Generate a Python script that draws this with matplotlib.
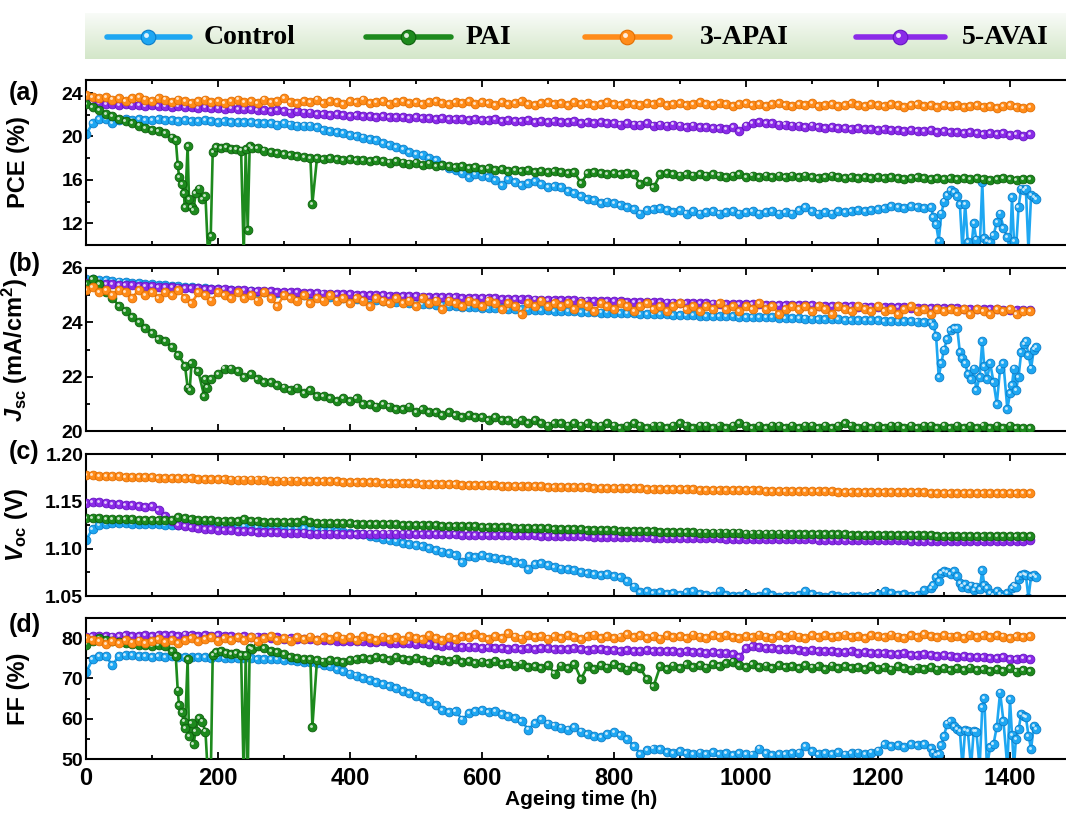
import numpy as np
import matplotlib.pyplot as plt
from matplotlib.ticker import MultipleLocator, FormatStrFormatter
from matplotlib.transforms import offset_copy

plt.rcParams['font.family'] = ['Liberation Sans', 'DejaVu Sans']
plt.rcParams['font.weight'] = 'bold'
plt.rcParams['mathtext.fontset'] = 'custom'
plt.rcParams['mathtext.rm'] = 'Liberation Sans:bold'
plt.rcParams['mathtext.it'] = 'Liberation Sans:italic:bold'
plt.rcParams['mathtext.bf'] = 'Liberation Sans:bold'

# ---------------- data ----------------
names = ['Control', 'PAI', '3-APAI', '5-AVAI']

# measurement grid, h
t10 = np.arange(0, 1440, 10)
t_ctrl_grid = np.arange(0, 1290, 10)
ctrl_tail_t = [1284, 1288, 1292, 1296, 1300, 1305, 1310, 1315, 1320, 1324,
               1328, 1332, 1336, 1341, 1345, 1349, 1354, 1358, 1361, 1365,
               1370, 1375, 1380, 1385, 1390, 1396, 1400, 1403, 1406, 1409,
               1413, 1417, 1421, 1424, 1428, 1432, 1436, 1440]
t_pai_head = np.arange(0, 140, 10)
pai_spike_t = [136, 139, 141, 145, 148, 150, 154, 156, 160, 163, 166, 171, 176, 181,
               185, 189, 192, 197, 205, 212, 220, 228, 235, 239, 242, 245, 248, 252]
t_pai_tail = np.arange(260, 1440, 10)

# (a) PCE (%)
ctrl_pce = [20.2, 21.2, 21.6, 21.6, 21.2, 21.5, 21.6, 21.5, 21.6, 21.5, 21.5, 21.6,
            21.5, 21.5, 21.4, 21.5, 21.4, 21.4, 21.5, 21.4, 21.3, 21.4, 21.3, 21.3,
            21.3, 21.3, 21.2, 21.2, 21.2, 21.1, 21.2, 21.1, 21.0, 21.0, 21.0, 20.9,
            20.6, 20.5, 20.4, 20.3, 20.1, 20.0, 19.9, 19.8, 19.7, 19.4, 19.2, 19.0,
            18.8, 18.6, 18.4, 18.3, 18.0, 17.8, 17.4, 17.1, 16.9, 16.6, 16.3, 16.5,
            16.4, 16.3, 16.0, 15.5, 16.1, 15.8, 15.5, 15.7, 15.9, 15.6, 15.3, 15.4,
            15.3, 15.0, 14.8, 14.5, 14.2, 14.1, 13.9, 14.0, 13.9, 13.7, 13.5, 13.3,
            12.9, 13.2, 13.3, 13.4, 13.2, 13.0, 13.2, 12.9, 13.1, 12.9, 13.0, 13.1,
            12.9, 13.0, 13.1, 12.9, 13.0, 13.1, 12.9, 13.0, 13.1, 12.9, 13.0, 12.9,
            13.2, 13.5, 13.1, 12.9, 13.0, 12.9, 13.1, 13.0, 13.1, 13.2, 13.1, 13.2,
            13.3, 13.4, 13.6, 13.5, 13.4, 13.6, 13.5, 13.4, 13.5]
ctrl_pce_tail = [12.6, 11.9, 10.4, 12.9, 14.0, 14.6, 15.1, 14.9, 14.5, 13.8,
                 9.5, 13.8, 10.3, 9.5, 12.0, 10.5, 9.5, 15.8, 10.6, 10.4,
                 10.3, 10.9, 12.1, 12.9, 11.6, 10.7, 9.5, 14.4, 10.4, 9.5,
                 13.5, 15.2, 15.1, 15.2, 9.5, 14.6, 14.4, 14.2]
pai_pce_head = [23.0, 22.7, 22.4, 22.1, 21.9, 21.6, 21.4, 21.2, 21.0, 20.8, 20.6, 20.5, 20.3, 19.9]
pai_pce_spike = [19.7, 17.4, 16.3, 15.6, 14.8, 13.5, 19.1, 14.2, 13.5, 13.2, 14.8, 15.2, 14.2, 14.5,
                 9.0, 10.8, 18.6, 19.0, 18.9, 19.0, 18.8, 18.8, 18.7, 9.0, 18.8, 11.4, 19.1, 18.9]
pai_pce_tail = [18.9, 18.7, 18.6, 18.5, 18.4, 18.3, 18.2, 18.1, 18.0, 18.0,
                17.9, 18.0, 17.9, 17.8, 17.9, 17.8, 17.8, 17.7, 17.8, 17.7, 17.6, 17.7,
                17.6, 17.5, 17.6, 17.4, 17.5, 17.3, 17.4, 17.3, 17.2, 17.3, 17.1, 17.2,
                17.0, 17.1, 16.9, 17.0, 16.8, 16.9, 16.8, 16.9, 16.7, 16.8, 16.7, 16.8,
                16.7, 16.6, 16.7, 15.7, 16.6, 16.7, 16.6, 16.5, 16.6, 16.5, 16.6, 16.5,
                15.6, 15.9, 15.3, 16.5, 16.6, 16.5, 16.4, 16.5, 16.4, 16.5, 16.4, 16.5,
                16.4, 16.3, 16.4, 16.5, 16.3, 16.4, 16.3, 16.4, 16.3, 16.4, 16.3, 16.4,
                16.3, 16.4, 16.3, 16.2, 16.3, 16.4, 16.3, 16.2, 16.3, 16.2, 16.3, 16.2,
                16.3, 16.2, 16.3, 16.2, 16.1, 16.2, 16.3, 16.2, 16.1, 16.2, 16.1, 16.2,
                16.1, 16.2, 16.1, 16.2, 16.1, 16.0, 16.1, 16.2, 16.1, 16.0, 16.1, 16.1]
pai_pce_dip = ([343], [13.8])
apai_pce = [23.8, 23.6, 23.5, 23.6, 23.4, 23.5, 23.3, 23.5, 23.6, 23.4, 23.3, 23.5,
            23.4, 23.2, 23.4, 23.3, 23.1, 23.3, 23.4, 23.2, 23.3, 23.1, 23.3, 23.4,
            23.2, 23.3, 23.1, 23.4, 23.2, 23.3, 23.5, 23.2, 23.1, 23.3, 23.2, 23.4,
            23.1, 23.3, 23.2, 23.0, 23.3, 23.2, 23.4, 23.1, 23.2, 23.3, 23.0, 23.2,
            23.3, 23.1, 23.2, 23.0, 23.2, 23.3, 23.1, 23.0, 23.2, 23.1, 23.3, 23.0,
            23.2, 23.1, 22.9, 23.2, 23.0, 23.1, 23.3, 23.0, 22.9, 23.1, 23.2, 23.0,
            23.1, 22.9, 23.2, 23.0, 23.1, 22.9, 23.0, 23.2, 23.0, 22.9, 23.1, 23.0,
            22.9, 23.1, 23.0, 23.2, 22.9, 23.0, 23.1, 22.9, 23.0, 23.2, 23.0, 22.9,
            23.1, 23.0, 22.8, 23.0, 23.1, 22.9, 23.0, 22.8, 23.0, 23.1, 22.9, 22.8,
            23.0, 22.9, 23.1, 22.8, 22.9, 23.0, 22.8, 22.9, 23.1, 22.9, 22.8, 23.0,
            22.9, 22.8, 23.0, 22.9, 22.7, 22.9, 23.0, 22.8, 22.9, 22.7, 22.9, 22.8,
            22.9, 22.7, 22.8, 22.9, 22.7, 22.8, 22.6, 22.8, 22.9, 22.7, 22.6, 22.7]
avai_pce = [23.3, 23.2, 23.1, 23.0, 23.0, 22.9, 23.0, 22.9, 22.9, 22.8, 22.9, 22.8,
            22.8, 22.7, 22.8, 22.7, 22.7, 22.6, 22.7, 22.6, 22.6, 22.5, 22.6, 22.5,
            22.5, 22.5, 22.4, 22.4, 22.3, 22.4, 22.3, 22.2, 22.3, 22.2, 22.2, 22.1,
            22.1, 22.0, 22.1, 22.0, 21.9, 22.0, 21.9, 21.9, 21.8, 21.9, 21.8, 21.8,
            21.8, 21.7, 21.8, 21.7, 21.7, 21.6, 21.7, 21.6, 21.6, 21.6, 21.5, 21.6,
            21.5, 21.5, 21.6, 21.4, 21.5, 21.4, 21.4, 21.5, 21.3, 21.4, 21.3, 21.4,
            21.3, 21.3, 21.4, 21.2, 21.3, 21.2, 21.3, 21.2, 21.2, 21.1, 21.2, 21.1,
            21.1, 21.2, 21.0, 21.1, 21.0, 21.1, 21.0, 20.9, 21.0, 20.9, 20.9, 20.8,
            20.8, 20.7, 20.9, 20.5, 21.0, 21.2, 21.3, 21.2, 21.2, 21.1, 21.1, 21.0,
            21.0, 20.9, 21.0, 20.9, 20.8, 20.9, 20.8, 20.8, 20.7, 20.8, 20.7, 20.7,
            20.6, 20.7, 20.6, 20.6, 20.5, 20.6, 20.5, 20.5, 20.6, 20.4, 20.5, 20.4,
            20.4, 20.3, 20.4, 20.3, 20.2, 20.3, 20.2, 20.3, 20.1, 20.2, 20.0, 20.2]

# (b) Jsc (mA/cm2)
ctrl_jsc = [25.60, 25.58, 25.56, 25.54, 25.52, 25.50, 25.48, 25.46, 25.44, 25.42, 25.40, 25.38,
            25.36, 25.34, 25.32, 25.30, 25.29, 25.27, 25.25, 25.23, 25.22, 25.20, 25.18, 25.17,
            25.15, 25.14, 25.12, 25.11, 25.09, 25.08, 25.06, 25.05, 25.03, 25.02, 25.00, 24.98,
            24.96, 24.94, 24.92, 24.90, 24.89, 24.87, 24.85, 24.83, 24.81, 24.79, 24.78, 24.76,
            24.74, 24.72, 24.70, 24.68, 24.67, 24.65, 24.63, 24.61, 24.60, 24.58, 24.56, 24.55,
            24.54, 24.53, 24.52, 24.51, 24.50, 24.49, 24.48, 24.47, 24.46, 24.45, 24.44, 24.43,
            24.42, 24.41, 24.40, 24.39, 24.38, 24.37, 24.36, 24.36, 24.35, 24.34, 24.33, 24.33,
            24.32, 24.31, 24.30, 24.30, 24.29, 24.28, 24.27, 24.27, 24.26, 24.25, 24.24, 24.24,
            24.23, 24.22, 24.22, 24.21, 24.20, 24.20, 24.19, 24.18, 24.18, 24.17, 24.16, 24.16,
            24.15, 24.14, 24.14, 24.13, 24.12, 24.12, 24.11, 24.10, 24.10, 24.09, 24.08, 24.08,
            24.07, 24.06, 24.06, 24.05, 24.04, 24.04, 24.03, 24.02, 24.02]
ctrl_jsc_tail = [23.9, 23.5, 22.0, 22.5, 23.0, 23.4, 23.7, 23.8, 23.8, 22.9,
                 22.7, 22.5, 22.1, 21.9, 22.3, 21.5, 22.0, 23.3, 22.4, 21.9,
                 22.5, 21.8, 21.0, 22.3, 22.5, 20.8, 21.4, 21.7, 22.3, 21.5,
                 22.0, 22.9, 23.2, 23.3, 22.8, 22.3, 23.0, 23.1]
pai_jsc = [25.4, 25.6, 25.4, 25.1, 24.9, 24.6, 24.4, 24.2, 24.0, 23.8, 23.6, 23.4,
           23.3, 23.1, 22.8, 22.4, 22.5, 22.2, 21.9, 21.9, 22.1, 22.3, 22.3, 22.2,
           22.0, 22.1, 21.9, 21.8, 21.8, 21.7, 21.6, 21.5, 21.6, 21.4, 21.5, 21.3,
           21.3, 21.2, 21.1, 21.2, 21.1, 21.2, 21.0, 21.0, 20.9, 21.0, 20.9, 20.8,
           20.8, 20.9, 20.7, 20.8, 20.7, 20.7, 20.6, 20.7, 20.6, 20.5, 20.6, 20.5,
           20.5, 20.4, 20.5, 20.4, 20.4, 20.3, 20.4, 20.3, 20.4, 20.3, 20.2, 20.3,
           20.3, 20.2, 20.3, 20.2, 20.3, 20.2, 20.2, 20.3, 20.2, 20.1, 20.2, 20.3,
           20.2, 20.1, 20.2, 20.2, 20.1, 20.2, 20.3, 20.2, 20.1, 20.2, 20.2, 20.1,
           20.2, 20.1, 20.2, 20.3, 20.2, 20.1, 20.2, 20.1, 20.2, 20.2, 20.1, 20.2,
           20.1, 20.2, 20.2, 20.1, 20.2, 20.1, 20.2, 20.3, 20.2, 20.1, 20.2, 20.1,
           20.2, 20.1, 20.2, 20.2, 20.1, 20.2, 20.1, 20.2, 20.2, 20.1, 20.2, 20.1,
           20.2, 20.1, 20.2, 20.1, 20.2, 20.1, 20.2, 20.1, 20.2, 20.1, 20.1, 20.1]
pai_jsc_dip = ([154, 157, 179, 183], [21.6, 21.5, 21.3, 21.6])
apai_jsc = [25.2, 25.3, 25.1, 25.2, 25.0, 25.2, 25.1, 24.9, 25.2, 25.0, 25.1, 24.9,
            25.1, 25.0, 25.2, 24.9, 24.7, 25.1, 25.0, 24.8, 25.1, 25.0, 24.9, 25.1,
            24.9, 25.0, 24.8, 25.1, 24.9, 24.6, 25.0, 24.9, 24.8, 25.0, 24.7, 24.9,
            24.8, 25.0, 24.8, 24.9, 24.7, 24.9, 24.8, 24.6, 24.9, 24.8, 24.7, 24.9,
            24.7, 24.8, 24.6, 24.9, 24.7, 24.8, 24.5, 24.8, 24.7, 24.6, 24.8, 24.7,
            24.6, 24.8, 24.7, 24.5, 24.7, 24.6, 24.3, 24.7, 24.6, 24.8, 24.6, 24.7,
            24.6, 24.7, 24.5, 24.7, 24.6, 24.4, 24.7, 24.6, 24.5, 24.7, 24.6, 24.4,
            24.6, 24.7, 24.5, 24.6, 24.4, 24.6, 24.7, 24.5, 24.6, 24.4, 24.6, 24.5,
            24.7, 24.5, 24.6, 24.4, 24.6, 24.5, 24.7, 24.5, 24.6, 24.3, 24.5, 24.6,
            24.5, 24.6, 24.4, 24.6, 24.5, 24.3, 24.6, 24.5, 24.4, 24.6, 24.5, 24.4,
            24.6, 24.4, 24.5, 24.3, 24.5, 24.6, 24.4, 24.5, 24.3, 24.5, 24.4, 24.5,
            24.4, 24.5, 24.3, 24.5, 24.4, 24.3, 24.5, 24.4, 24.5, 24.3, 24.4, 24.4]
avai_jsc = [25.45, 25.44, 25.42, 25.41, 25.40, 25.38, 25.37, 25.36, 25.35, 25.33, 25.32, 25.31,
            25.30, 25.29, 25.28, 25.27, 25.26, 25.25, 25.24, 25.23, 25.22, 25.21, 25.20, 25.19,
            25.18, 25.17, 25.16, 25.15, 25.14, 25.13, 25.12, 25.11, 25.10, 25.09, 25.08, 25.07,
            25.06, 25.05, 25.04, 25.04, 25.03, 25.02, 25.01, 25.00, 25.00, 24.99, 24.98, 24.98,
            24.97, 24.96, 24.96, 24.95, 24.94, 24.94, 24.93, 24.92, 24.92, 24.91, 24.90, 24.90,
            24.89, 24.89, 24.88, 24.87, 24.87, 24.86, 24.86, 24.85, 24.84, 24.84, 24.83, 24.83,
            24.82, 24.82, 24.81, 24.80, 24.80, 24.79, 24.79, 24.78, 24.78, 24.77, 24.76, 24.76,
            24.75, 24.75, 24.74, 24.74, 24.73, 24.73, 24.72, 24.71, 24.71, 24.70, 24.70, 24.69,
            24.69, 24.68, 24.68, 24.67, 24.67, 24.66, 24.66, 24.65, 24.65, 24.64, 24.64, 24.63,
            24.63, 24.62, 24.62, 24.61, 24.61, 24.60, 24.60, 24.59, 24.59, 24.58, 24.58, 24.57,
            24.57, 24.56, 24.56, 24.55, 24.55, 24.54, 24.54, 24.53, 24.53, 24.52, 24.52, 24.51,
            24.51, 24.50, 24.50, 24.49, 24.49, 24.48, 24.48, 24.47, 24.47, 24.46, 24.46, 24.45]

# (c) Voc (V)
ctrl_voc = [1.109, 1.121, 1.125, 1.126, 1.127, 1.127, 1.127, 1.126, 1.126, 1.126, 1.126, 1.126,
            1.125, 1.125, 1.125, 1.125, 1.125, 1.125, 1.124, 1.124, 1.124, 1.124, 1.124, 1.124,
            1.124, 1.124, 1.123, 1.123, 1.123, 1.123, 1.123, 1.122, 1.122, 1.122, 1.121, 1.121,
            1.120, 1.120, 1.119, 1.118, 1.117, 1.116, 1.115, 1.113, 1.112, 1.110, 1.109, 1.108,
            1.106, 1.105, 1.104, 1.103, 1.101, 1.099, 1.097, 1.095, 1.093, 1.086, 1.092, 1.091,
            1.093, 1.091, 1.090, 1.089, 1.088, 1.086, 1.085, 1.078, 1.084, 1.085, 1.083, 1.081,
            1.079, 1.078, 1.077, 1.075, 1.074, 1.073, 1.072, 1.073, 1.071, 1.070, 1.066, 1.060,
            1.054, 1.055, 1.053, 1.054, 1.052, 1.053, 1.051, 1.054, 1.055, 1.052, 1.051, 1.050,
            1.055, 1.051, 1.050, 1.050, 1.052, 1.049, 1.050, 1.054, 1.051, 1.049, 1.050, 1.050,
            1.051, 1.055, 1.052, 1.050, 1.049, 1.051, 1.050, 1.049, 1.050, 1.050, 1.049, 1.050,
            1.052, 1.055, 1.053, 1.051, 1.052, 1.050, 1.051, 1.056, 1.058]
ctrl_voc_tail = [1.062, 1.070, 1.066, 1.074, 1.076, 1.075, 1.073, 1.076, 1.071, 1.064,
                 1.060, 1.063, 1.058, 1.061, 1.056, 1.060, 1.057, 1.077, 1.062, 1.058,
                 1.053, 1.051, 1.055, 1.052, 1.050, 1.053, 1.048, 1.058, 1.061, 1.060,
                 1.068, 1.072, 1.073, 1.072, 1.048, 1.071, 1.072, 1.070]
pai_voc = [1.132, 1.132, 1.132, 1.131, 1.131, 1.131, 1.131, 1.131, 1.130, 1.130, 1.130, 1.130,
           1.130, 1.130, 1.133, 1.132, 1.131, 1.130, 1.130, 1.130, 1.129, 1.129, 1.129, 1.129,
           1.131, 1.129, 1.129, 1.128, 1.128, 1.128, 1.128, 1.128, 1.128, 1.130, 1.128, 1.127,
           1.127, 1.127, 1.127, 1.127, 1.127, 1.126, 1.126, 1.126, 1.126, 1.126, 1.126, 1.126,
           1.125, 1.125, 1.125, 1.125, 1.125, 1.125, 1.124, 1.124, 1.124, 1.124, 1.124, 1.124,
           1.123, 1.123, 1.123, 1.123, 1.123, 1.122, 1.122, 1.122, 1.122, 1.122, 1.122, 1.121,
           1.121, 1.121, 1.121, 1.121, 1.120, 1.120, 1.120, 1.120, 1.120, 1.119, 1.119, 1.119,
           1.119, 1.119, 1.119, 1.118, 1.118, 1.118, 1.118, 1.118, 1.118, 1.117, 1.117, 1.117,
           1.117, 1.117, 1.117, 1.117, 1.116, 1.116, 1.116, 1.116, 1.116, 1.116, 1.116, 1.115,
           1.115, 1.115, 1.115, 1.115, 1.115, 1.115, 1.115, 1.115, 1.114, 1.114, 1.114, 1.114,
           1.114, 1.114, 1.114, 1.114, 1.114, 1.114, 1.114, 1.114, 1.114, 1.113, 1.113, 1.113,
           1.113, 1.113, 1.113, 1.113, 1.113, 1.113, 1.113, 1.113, 1.113, 1.113, 1.113, 1.113]
apai_voc = [1.178, 1.178, 1.177, 1.177, 1.177, 1.177, 1.176, 1.176, 1.176, 1.176, 1.176, 1.175,
            1.175, 1.175, 1.175, 1.175, 1.175, 1.174, 1.174, 1.174, 1.174, 1.174, 1.173, 1.173,
            1.173, 1.173, 1.173, 1.173, 1.172, 1.172, 1.172, 1.172, 1.172, 1.171, 1.171, 1.171,
            1.171, 1.171, 1.171, 1.170, 1.170, 1.170, 1.170, 1.170, 1.170, 1.169, 1.169, 1.169,
            1.169, 1.169, 1.169, 1.168, 1.168, 1.168, 1.168, 1.168, 1.168, 1.167, 1.167, 1.167,
            1.167, 1.167, 1.167, 1.166, 1.166, 1.166, 1.166, 1.166, 1.166, 1.166, 1.165, 1.165,
            1.165, 1.165, 1.165, 1.165, 1.165, 1.164, 1.164, 1.164, 1.164, 1.164, 1.164, 1.164,
            1.164, 1.163, 1.163, 1.163, 1.163, 1.163, 1.163, 1.163, 1.163, 1.162, 1.162, 1.162,
            1.162, 1.162, 1.162, 1.162, 1.162, 1.162, 1.162, 1.161, 1.161, 1.161, 1.161, 1.161,
            1.161, 1.161, 1.161, 1.161, 1.161, 1.161, 1.160, 1.160, 1.160, 1.160, 1.160, 1.160,
            1.160, 1.160, 1.160, 1.160, 1.160, 1.160, 1.160, 1.160, 1.159, 1.159, 1.159, 1.159,
            1.159, 1.159, 1.159, 1.159, 1.159, 1.159, 1.159, 1.159, 1.159, 1.159, 1.159, 1.159]
avai_voc = [1.148, 1.149, 1.149, 1.148, 1.147, 1.147, 1.146, 1.146, 1.145, 1.144, 1.145, 1.141,
            1.134, 1.129, 1.125, 1.124, 1.123, 1.122, 1.121, 1.121, 1.120, 1.120, 1.120, 1.119,
            1.119, 1.119, 1.118, 1.118, 1.118, 1.118, 1.117, 1.117, 1.117, 1.117, 1.116, 1.116,
            1.116, 1.116, 1.116, 1.115, 1.115, 1.115, 1.116, 1.116, 1.116, 1.116, 1.116, 1.116,
            1.116, 1.116, 1.115, 1.115, 1.115, 1.115, 1.115, 1.115, 1.115, 1.114, 1.114, 1.114,
            1.114, 1.114, 1.114, 1.114, 1.114, 1.114, 1.114, 1.114, 1.114, 1.113, 1.113, 1.113,
            1.113, 1.113, 1.113, 1.113, 1.113, 1.112, 1.112, 1.112, 1.112, 1.112, 1.112, 1.112,
            1.112, 1.112, 1.111, 1.111, 1.111, 1.111, 1.111, 1.111, 1.111, 1.111, 1.111, 1.111,
            1.111, 1.110, 1.110, 1.110, 1.110, 1.110, 1.110, 1.110, 1.110, 1.110, 1.110, 1.110,
            1.110, 1.110, 1.110, 1.109, 1.109, 1.109, 1.109, 1.109, 1.109, 1.109, 1.109, 1.109,
            1.109, 1.109, 1.109, 1.109, 1.109, 1.108, 1.108, 1.108, 1.108, 1.108, 1.108, 1.108,
            1.108, 1.108, 1.108, 1.108, 1.108, 1.108, 1.108, 1.108, 1.108, 1.108, 1.108, 1.109]

# (d) FF (%)
ctrl_ff = [71.5, 74.7, 75.5, 75.5, 73.3, 75.6, 75.9, 75.7, 75.5, 75.6, 75.4, 75.5,
           75.4, 75.5, 75.3, 75.4, 75.3, 75.2, 75.3, 75.1, 75.2, 75.1, 75.0, 75.1,
           75.0, 75.0, 74.9, 74.8, 74.9, 74.7, 74.6, 74.5, 74.3, 74.1, 74.0, 73.8,
           73.4, 73.0, 72.4, 71.8, 71.2, 70.7, 70.1, 69.6, 69.2, 68.6, 68.1, 67.6,
           66.8, 66.3, 65.6, 65.1, 64.4, 63.3, 62.2, 61.7, 61.9, 59.8, 61.3, 61.9,
           62.1, 61.6, 61.8, 61.2, 60.7, 60.2, 59.5, 57.3, 58.9, 59.9, 58.8, 58.3,
           57.8, 57.3, 57.9, 56.8, 56.2, 55.8, 55.5, 56.1, 56.6, 55.9, 55.0, 53.3,
           51.3, 52.2, 52.6, 52.4, 51.8, 51.5, 51.9, 51.4, 51.2, 51.6, 51.3, 51.7,
           51.2, 51.4, 51.0, 51.5, 51.3, 51.1, 52.6, 51.4, 51.0, 51.3, 51.2, 51.5,
           51.6, 53.3, 51.9, 51.2, 51.5, 51.3, 51.7, 51.1, 51.4, 51.6, 51.3, 51.6,
           52.1, 53.7, 53.2, 53.4, 53.0, 53.6, 53.5, 53.7, 52.8]
ctrl_ff_tail = [51.6, 51.0, 51.2, 53.5, 55.8, 58.8, 59.5, 58.2, 57.5, 57.0,
                48.0, 57.2, 57.0, 48.0, 57.0, 56.8, 48.0, 63.0, 65.2, 48.0,
                53.0, 53.7, 58.0, 66.5, 59.5, 48.0, 64.8, 56.0, 48.0, 55.0,
                57.4, 61.1, 60.7, 60.5, 55.8, 52.5, 58.2, 57.4]
pai_ff_head = [78.4, 79.3, 80.0, 79.6, 79.2, 79.0, 78.7, 78.6, 78.3, 78.2, 78.0, 78.3, 78.1, 76.8]
pai_ff_spike = [75.5, 67.0, 63.3, 61.7, 59.3, 57.6, 74.7, 55.6, 58.9, 53.6, 57.0, 60.1, 59.3, 56.8,
                45.0, 45.0, 75.9, 76.5, 76.7, 76.3, 76.0, 76.3, 75.9, 45.0, 75.9, 45.0, 77.6, 77.3]
pai_ff_tail = [78.0, 77.5, 76.9, 76.5, 76.0, 75.4, 75.1, 74.8, 74.7, 74.6,
               74.2, 74.5, 74.3, 74.0, 74.6, 74.8, 75.1, 74.7, 75.3, 75.0, 74.6, 75.2,
               74.8, 74.5, 75.1, 74.6, 74.2, 74.9, 74.5, 74.3, 74.8, 74.1, 74.4, 73.9,
               74.2, 73.8, 74.3, 73.6, 73.9, 73.2, 73.7, 72.8, 73.1, 72.5, 73.4, 71.2,
               73.2, 72.6, 73.5, 69.9, 73.0, 72.4, 73.3, 72.7, 73.6, 72.9, 72.2, 73.1,
               72.5, 69.8, 68.1, 73.0, 72.4, 73.2, 72.6, 73.5, 72.9, 73.3, 72.7, 73.6,
               73.0, 73.8, 74.2, 73.4, 72.8, 73.5, 72.9, 73.2, 72.6, 73.4, 72.8, 73.1,
               72.5, 73.3, 72.7, 73.0, 72.4, 73.2, 72.6, 73.1, 72.5, 72.9, 72.3, 73.0,
               72.4, 72.8, 72.2, 73.0, 72.5, 72.1, 72.7, 72.3, 72.9, 72.2, 72.6, 72.0,
               72.5, 72.1, 72.7, 72.0, 72.4, 71.8, 72.3, 71.9, 72.5, 71.7, 72.1, 71.8]
pai_ff_dip = ([343], [58.0])
apai_ff = [80.0, 79.5, 79.2, 78.6, 79.3, 78.8, 79.5, 78.9, 79.4, 78.7, 79.2, 79.8,
           79.0, 79.6, 78.8, 79.5, 80.1, 79.2, 79.7, 80.2, 79.4, 80.0, 79.5, 80.3,
           79.6, 80.2, 79.3, 80.0, 80.5, 79.6, 80.1, 79.4, 80.3, 79.8, 80.4, 79.5,
           80.2, 79.7, 80.5, 79.9, 80.3, 79.5, 80.6, 80.0, 79.6, 80.4, 79.8, 80.2,
           79.6, 80.5, 80.0, 79.7, 80.8, 80.1, 79.5, 80.3, 79.8, 80.6, 80.2, 81.0,
           80.3, 79.8, 80.6, 80.1, 81.2, 80.4, 79.9, 80.7, 80.2, 80.5, 79.9, 80.6,
           80.0, 80.7, 80.2, 79.8, 80.5, 80.9, 80.1, 80.6, 80.0, 80.4, 81.0, 80.2,
           80.7, 80.1, 80.5, 79.9, 80.8, 80.3, 80.6, 80.0, 80.9, 80.4, 80.1, 80.7,
           80.2, 80.8, 80.3, 80.0, 80.6, 80.2, 80.9, 80.4, 80.1, 80.7, 80.3, 80.9,
           80.4, 80.0, 80.7, 80.3, 80.8, 80.2, 80.5, 80.9, 80.3, 80.6, 80.1, 80.8,
           80.5, 80.2, 80.9, 80.4, 80.1, 80.7, 80.3, 81.0, 80.5, 80.2, 80.8, 80.4,
           80.6, 80.1, 80.9, 80.3, 80.7, 80.2, 80.8, 80.4, 80.0, 80.6, 80.3, 80.5]
avai_ff = [80.4, 80.6, 80.5, 80.6, 80.4, 80.5, 80.7, 80.6, 80.5, 80.7, 80.6, 80.8,
           80.7, 80.8, 80.6, 80.9, 80.7, 80.6, 80.8, 80.5, 80.7, 80.6, 80.5, 80.4,
           80.5, 80.3, 80.4, 80.2, 80.1, 80.2, 79.9, 80.0, 79.8, 79.7, 79.8, 79.6,
           79.5, 79.6, 79.4, 79.3, 79.4, 79.2, 79.3, 79.1, 79.0, 79.2, 78.9, 78.8,
           78.9, 78.7, 78.6, 78.8, 78.5, 78.3, 78.1, 78.2, 77.9, 77.8, 77.9, 77.7,
           77.6, 77.8, 77.5, 77.6, 77.4, 77.6, 77.3, 77.5, 77.4, 77.6, 77.5, 77.3,
           77.4, 77.2, 77.5, 77.3, 77.1, 77.3, 77.2, 77.0, 77.1, 76.9, 77.0, 76.8,
           76.9, 77.0, 76.8, 76.9, 76.7, 76.8, 76.6, 76.7, 76.5, 76.6, 76.4, 76.5,
           76.3, 76.2, 76.0, 75.2, 77.6, 78.0, 77.8, 77.6, 77.5, 77.3, 77.4, 77.2,
           77.0, 76.9, 77.0, 76.8, 76.7, 76.9, 76.6, 76.5, 76.7, 76.4, 76.5, 76.3,
           76.2, 76.4, 76.1, 76.0, 76.2, 75.9, 75.8, 76.0, 75.7, 75.6, 75.8, 75.5,
           75.4, 75.6, 75.3, 75.2, 75.4, 75.1, 75.0, 75.2, 74.9, 74.8, 75.0, 74.7]

panel_letters = ['(a)', '(b)', '(c)', '(d)']
ylabels = ['PCE (%)', r'$J_{\rm sc}$ (mA/cm$^{\rm 2}$)', r'$V_{\rm oc}$ (V)', 'FF (%)']
ylims = [(10, 25.2), (20, 26), (1.05, 1.20), (50, 85)]
yticks = [[12, 16, 20, 24], [20, 22, 24, 26], [1.05, 1.10, 1.15, 1.20], [50, 60, 70, 80]]
yminor = [2, 1, 0.025, 5]
xticks = [0, 200, 400, 600, 800, 1000, 1200, 1400]

COLORS = {'Control': ('#1ea7f2', '#0b7cc8'),
          'PAI': ('#1d8a1d', '#0d5f0d'),
          '3-APAI': ('#ff8c1a', '#e26e00'),
          '5-AVAI': ('#8b2be8', '#6412c2')}


def merged(*pairs):
    t = np.concatenate([np.asarray(p[0], float) for p in pairs])
    v = np.concatenate([np.asarray(p[1], float) for p in pairs])
    order = np.argsort(t, kind='stable')
    return t[order], v[order]


def beads(ax, t, v, name, z):
    face, edge = COLORS[name]
    ax.plot(t, v, '-', color=face, lw=1.9, marker='o', ms=6.3, mfc=face,
            mec=edge, mew=0.6, zorder=z)
    hl = offset_copy(ax.transData, fig=ax.figure, x=-0.8, y=0.8, units='points')
    ax.plot(t, v, ls='none', marker='o', ms=2.1, mfc='white', mec='none',
            alpha=0.75, transform=hl, zorder=z + 0.1)


# series per panel, drawing order Control, 5-AVAI, PAI, 3-APAI
panels = [
    {'Control': merged((t_ctrl_grid, ctrl_pce), (ctrl_tail_t, ctrl_pce_tail)),
     '5-AVAI': (t10, avai_pce),
     'PAI': merged((t_pai_head, pai_pce_head), (pai_spike_t, pai_pce_spike),
                   (t_pai_tail, pai_pce_tail), pai_pce_dip),
     '3-APAI': (t10, apai_pce)},
    {'Control': merged((t_ctrl_grid, ctrl_jsc), (ctrl_tail_t, ctrl_jsc_tail)),
     '5-AVAI': (t10, avai_jsc),
     'PAI': merged((t10, pai_jsc), pai_jsc_dip),
     '3-APAI': (t10, apai_jsc)},
    {'Control': merged((t_ctrl_grid, ctrl_voc), (ctrl_tail_t, ctrl_voc_tail)),
     '5-AVAI': (t10, avai_voc),
     'PAI': (t10, pai_voc),
     '3-APAI': (t10, apai_voc)},
    {'Control': merged((t_ctrl_grid, ctrl_ff), (ctrl_tail_t, ctrl_ff_tail)),
     '5-AVAI': (t10, avai_ff),
     'PAI': merged((t_pai_head, pai_ff_head), (pai_spike_t, pai_ff_spike),
                   (t_pai_tail, pai_ff_tail), pai_ff_dip),
     '3-APAI': (t10, apai_ff)},
]

W, H = 1066, 816
fig = plt.figure(figsize=(W / 100, H / 100), dpi=100)

# pixel boxes (top, bottom) of each panel
boxes = [(80, 245), (268, 431), (454, 596), (618, 759)]
x_left, x_width = 86, 990
letter_y = [93, 264, 452, 625]

axes = []
for i, (top, bot) in enumerate(boxes):
    ax = fig.add_axes([x_left / W, 1 - bot / H, x_width / W, (bot - top) / H])
    for z, name in enumerate(['Control', '5-AVAI', 'PAI', '3-APAI']):
        t, v = panels[i][name]
        beads(ax, t, v, name, 2 + z)
    ax.set_xlim(0, 1500)
    ax.set_ylim(*ylims[i])
    ax.set_xticks(xticks)
    ax.xaxis.set_minor_locator(MultipleLocator(100))
    ax.set_yticks(yticks[i])
    ax.yaxis.set_minor_locator(MultipleLocator(yminor[i]))
    if i == 2:
        ax.yaxis.set_major_formatter(FormatStrFormatter('%.2f'))
    ax.tick_params(which='both', direction='in', top=True, right=True, width=1.3)
    ax.tick_params(which='major', length=5, labelsize=14, pad=2)
    ax.tick_params(which='minor', length=3)
    for sp in ax.spines.values():
        sp.set_linewidth(1.5)
    ax.set_ylabel(ylabels[i], fontsize=17, fontweight='bold')
    ax.yaxis.set_label_coords(-0.057, 0.5)
    if i < 3:
        ax.tick_params(axis='x', labelbottom=False)
    else:
        ax.tick_params(axis='x', labelsize=17, pad=6)
        ax.set_xlabel('Ageing time (h)', fontsize=15, fontweight='bold', labelpad=0)
    fig.text(9 / W, 1 - letter_y[i] / H, panel_letters[i], fontsize=18,
             fontweight='bold', va='center', ha='left')
    axes.append(ax)

# legend banner with soft green gradient
lx0, ly_top, lw_px, lh_px = 85, 13, 981, 46
lax = fig.add_axes([lx0 / W, 1 - (ly_top + lh_px) / H, lw_px / W, lh_px / H])
grad = np.linspace(0, 1, 64)[:, None]
c_top = np.array([0.975, 0.985, 0.97])
c_bot = np.array([0.83, 0.905, 0.79])
img = c_top[None, None, :] * (1 - grad[..., None]) + c_bot[None, None, :] * grad[..., None]
img = np.repeat(img, 2, axis=1)
lax.imshow(img, extent=[0, lw_px, 0, lh_px], aspect='auto', origin='upper', zorder=0)
lax.set_xlim(0, lw_px)
lax.set_ylim(0, lh_px)
lax.axis('off')

legend_pos = {'Control': (22, 105, 63, 119),
              'PAI': (281, 366, 323, 381),
              '3-APAI': (500, 585, 542, 615),
              '5-AVAI': (771, 860, 815, 877)}
yc = 22
for name in names:
    x0, x1, xm, xt = legend_pos[name]
    face, edge = COLORS[name]
    lax.plot([x0, x1], [yc, yc], color=face, lw=4.0, solid_capstyle='round', zorder=2)
    lax.plot([xm], [yc], 'o', ms=10.5, mfc=face, mec=edge, mew=0.8, zorder=3)
    hl = offset_copy(lax.transData, fig=fig, x=-1.2, y=1.2, units='points')
    lax.plot([xm], [yc], 'o', ms=3.5, mfc='white', mec='none', alpha=0.85,
             transform=hl, zorder=4)
    lax.text(xt, yc, name, fontsize=20, fontweight='bold', va='center', ha='left',
             family=['Liberation Serif', 'DejaVu Serif'], zorder=5)

fig.savefig('out.png', dpi=100)
